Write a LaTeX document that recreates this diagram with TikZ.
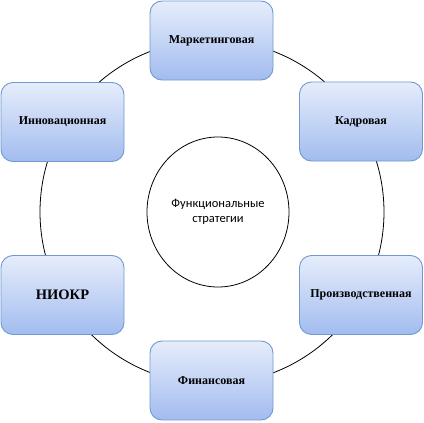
\documentclass[tikz,border=0pt]{standalone}
\usepackage{fontspec}
\setmainfont{Liberation Serif}
\newfontfamily\calibri{Carlito}
\usepackage{tikz}
\usetikzlibrary{shapes.geometric}
\definecolor{boxEdge}{HTML}{7099D2}
\definecolor{boxTop}{HTML}{E6EDFB}
\definecolor{boxBot}{HTML}{A2BCEF}

\tikzset{
  stratbox/.style={draw=boxEdge,line width=0.9pt,rounded corners=12pt,
    top color=boxTop,bottom color=boxBot,minimum width=123pt,minimum height=79pt,
    font=\bfseries\fontsize{12}{14}\selectfont,inner sep=2pt},
}

\begin{document}
\begin{tikzpicture}[x=1pt,y=-1pt]
  \useasboundingbox (0,0) rectangle (424,423);
  \draw[thick] (212,212) circle (172);
  \node[draw,thick,ellipse,minimum width=142pt,minimum height=150pt,align=center,
    font=\calibri\fontsize{12.5}{15}\selectfont] (core) at (218,212)
    {Функциональные\\стратегии};
  \foreach \n/\x/\y/\t in {mark/211.5/40.5/Маркетинговая,
      kadr/361/121.5/Кадровая,
      proiz/361/295/Производственная,
      fin/211.5/380.5/Финансовая,
      niokr/62.5/295/\fontsize{14.5}{16}\selectfont НИОКР,
      innov/62.5/122/Инновационная}{
    \node[stratbox] (\n) at (\x,\y) {\t};
  }
\end{tikzpicture}
\end{document}
